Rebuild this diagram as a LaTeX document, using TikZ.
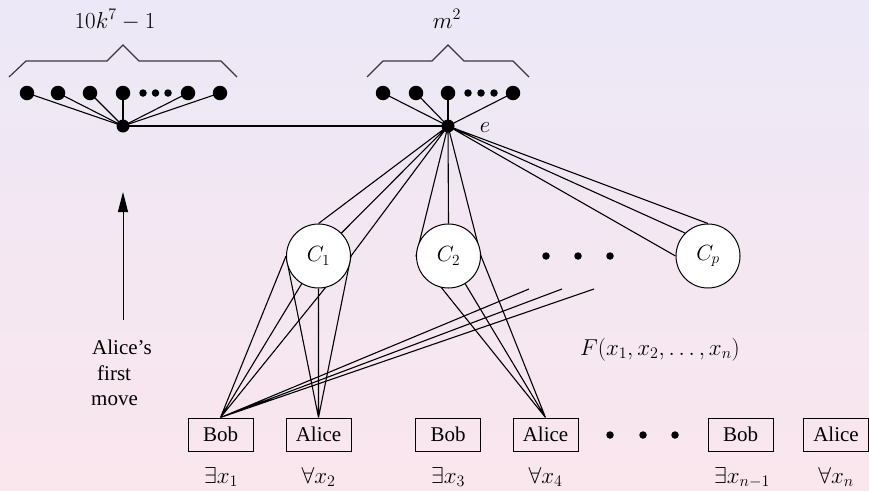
\RequirePackage{fix-cm}
\documentclass[tikz,border=0pt]{standalone}
\usepackage{fontspec}
\setmainfont{Liberation Serif}
\usetikzlibrary{arrows.meta}
\pgfdeclarelayer{back}
\pgfdeclarelayer{mid}
\pgfsetlayers{back,mid,main}
\definecolor{bgtop}{RGB}{236,232,247}
\definecolor{bgbot}{RGB}{250,230,237}
\definecolor{bracecol}{RGB}{55,55,60}
\tikzset{
  bigdot/.style={circle,fill=black,inner sep=0pt,minimum size=14.5pt},
  hubdot/.style={circle,fill=black,inner sep=0pt,minimum size=13pt},
  smalldot/.style={circle,fill=black,inner sep=0pt,minimum size=7.5pt},
  clause/.style={circle,draw,line width=1pt,fill=white,minimum size=64pt,inner sep=0pt,font=\fontsize{22}{26}\selectfont},
  player/.style={draw,line width=1pt,minimum width=65pt,minimum height=33pt,inner sep=0pt,font=\fontsize{21}{25}\selectfont},
  lbl/.style={inner sep=0pt,font=\fontsize{23}{27}\selectfont},
  txt/.style={inner sep=0pt,anchor=base west,font=\fontsize{21}{25}\selectfont},
  wire/.style={line width=1.1pt},
  bracepath/.style={line width=1.2pt,draw=bracecol}
}
\begin{document}
\begin{tikzpicture}[x=1pt,y=-1pt]
\useasboundingbox (0,0) rectangle (869,490);
\begin{pgfonlayer}{back}
\shade[top color=bgtop,bottom color=bgbot] (0,0) rectangle (869,490);
\end{pgfonlayer}

% left group
\node[hubdot] (lh) at (123,126) {};
\node[bigdot] (l1) at (27,93) {};
\node[bigdot] (l2) at (58,93) {};
\node[bigdot] (l3) at (90,93) {};
\node[bigdot] (l4) at (123,93) {};
\node[smalldot] (ls1) at (143,93) {};
\node[smalldot] (ls2) at (155.5,93) {};
\node[smalldot] (ls3) at (168,93) {};
\node[bigdot] (l5) at (188,93) {};
\node[bigdot] (l6) at (220,93) {};
\draw[bracepath] (9,77) -- (26,61) -- (107,61) -- (123,45) -- (139,61) -- (221,61) -- (237,77);
\node[lbl,anchor=base] (ltxt) at (115,28) {$10k^7-1$};

% right group
\node[hubdot] (e) at (448,126) {};
\node[lbl,anchor=base] (elbl) at (485,132) {$e$};
\node[bigdot] (r1) at (383,93) {};
\node[bigdot] (r2) at (416,93) {};
\node[bigdot] (r3) at (448,93) {};
\node[smalldot] (rs1) at (468,93) {};
\node[smalldot] (rs2) at (481,93) {};
\node[smalldot] (rs3) at (494,93) {};
\node[bigdot] (r4) at (513,93) {};
\draw[bracepath] (367,77) -- (383,61) -- (432,61) -- (448,45) -- (464,61) -- (513,61) -- (529,77);
\node[lbl,anchor=base] (rtxt) at (447,28) {$m^2$};

% clauses
\node[clause] (c1) at (318.5,256) {$C_1$};
\node[clause] (c2) at (448.5,256) {$C_2$};
\node[clause] (cp) at (708,256) {$C_p$};
\node[smalldot] (cd1) at (546,256) {};
\node[smalldot] (cd2) at (578,256) {};
\node[smalldot] (cd3) at (610,256) {};

% players
\node[player] (b1) at (220.5,434.5) {Bob};
\node[player] (a2) at (318.5,434.5) {Alice};
\node[player] (b3) at (448,434.5) {Bob};
\node[player] (a4) at (545.5,434.5) {Alice};
\node[smalldot] (pd1) at (610,435) {};
\node[smalldot] (pd2) at (643,435) {};
\node[smalldot] (pd3) at (675,435) {};
\node[player] (bn1) at (740.5,434.5) {Bob};
\node[player] (an) at (836,434.5) {Alice};

\node[lbl,anchor=base] (q1) at (221,483) {$\exists x_1$};
\node[lbl,anchor=base] (q2) at (318.5,483) {$\forall x_2$};
\node[lbl,anchor=base] (q3) at (448,483) {$\exists x_3$};
\node[lbl,anchor=base] (q4) at (545.5,483) {$\forall x_4$};
\node[lbl,anchor=base] (q5) at (742,483) {$\exists x_{n-1}$};
\node[lbl,anchor=base] (q6) at (836,483) {$\forall x_n$};

\node[lbl,anchor=base] (ftxt) at (660,355) {$F(x_1,x_2,\ldots,x_n)$};

% Alice's first move
\node[txt] (am1) at (92,354) {Alice’s};
\node[txt] (am2) at (97,380) {first};
\node[txt] (am3) at (91,405) {move};
\coordinate (atail) at (123,320);
\coordinate (ahead) at (123,192);
\draw[line width=1pt,-{Triangle[length=20pt,width=10pt]}] (atail) -- (ahead);

\coordinate (f1) at (529,289);
\coordinate (f2) at (562,289);
\coordinate (f3) at (594,289);

\begin{pgfonlayer}{mid}
\foreach \d in {l1,l2,l3,l4,l5,l6} \draw[wire] (lh.center) -- (\d.center);
\foreach \d in {r1,r2,r3,r4} \draw[wire] (e.center) -- (\d.center);
\draw[wire] (lh.center) -- (e.center);
\draw[wire] (e.center) -- (c1.north) (e.center) -- (c1.north east) (e.center) -- (c1.east);
\draw[wire] (e.center) -- (c2.west) (e.center) -- (c2.north) (e.center) -- (c2.east);
\draw[wire] (e.center) -- (cp.north) (e.center) -- (cp.north west) (e.center) -- (cp.west);
\draw[wire] (b1.north) -- (c1.west) (b1.north) -- (c1.center) (b1.north) -- (c1.east);
\draw[wire] (a2.north) -- (c1.west) (a2.north) -- (c1.south) (a2.north) -- (c1.east);
\draw[wire] (a4.north) -- (c2.west) (a4.north) -- (c2.center) (a4.north) -- (c2.east);
\draw[wire] (b1.north) -- (f1) (b1.north) -- (f2) (b1.north) -- (f3);
\end{pgfonlayer}
\end{tikzpicture}
\end{document}
